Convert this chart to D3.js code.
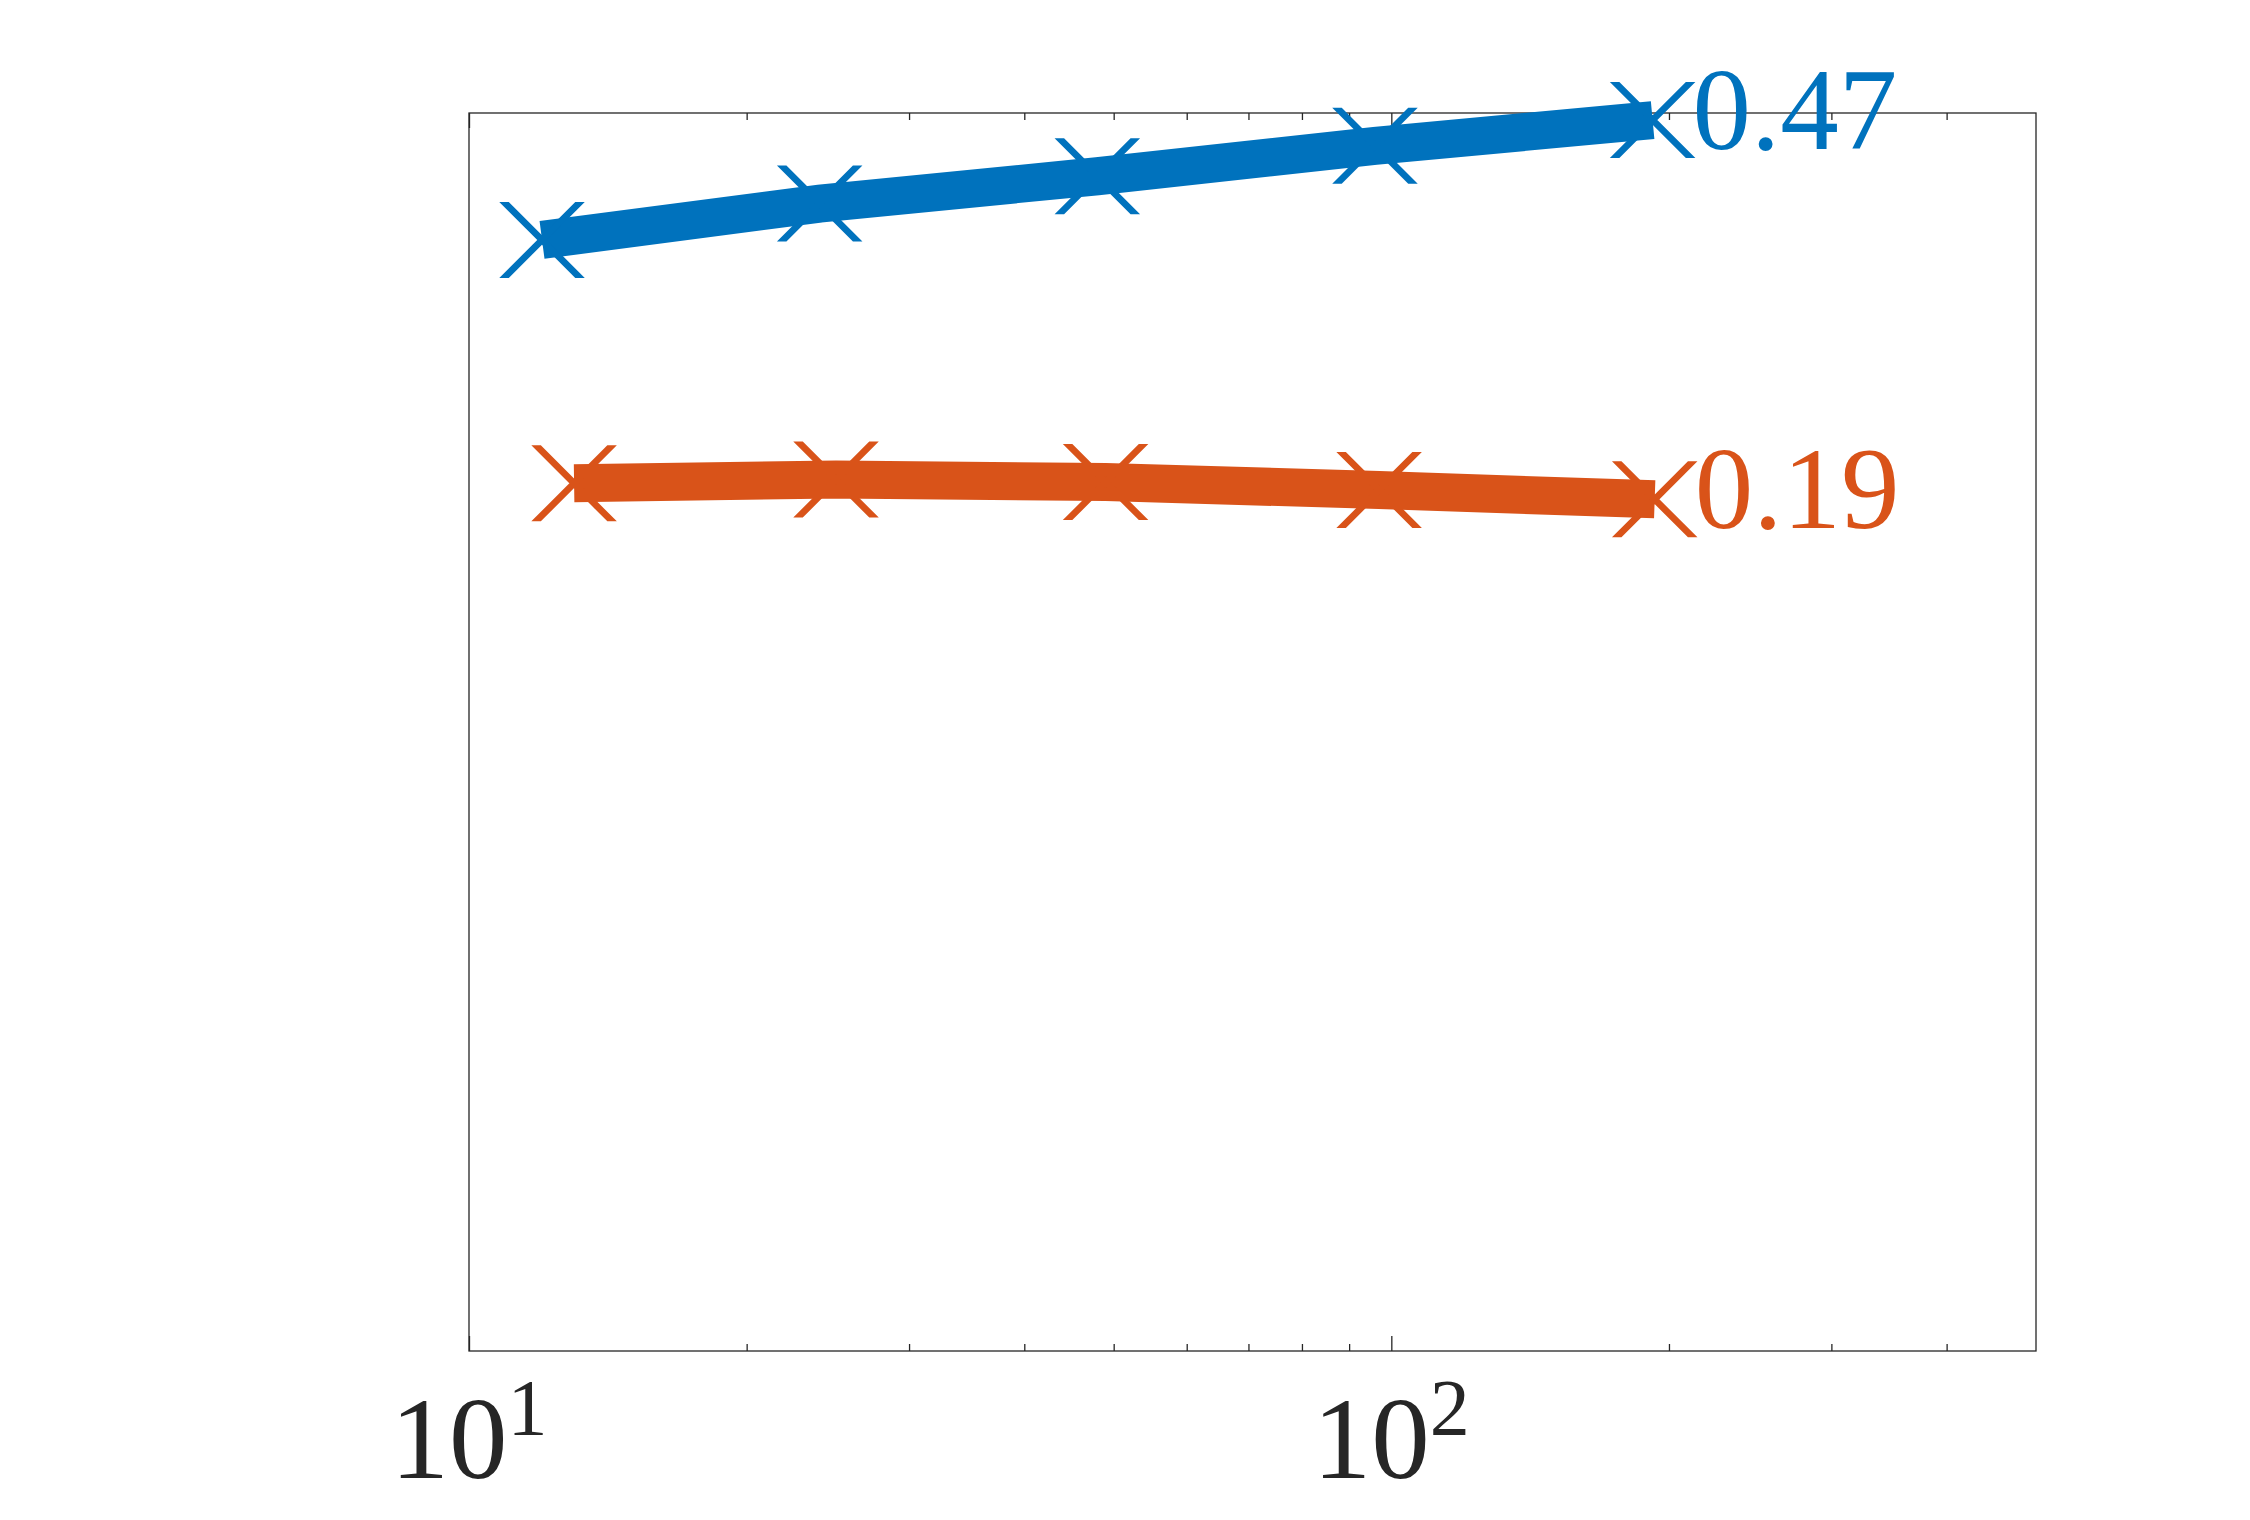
<!DOCTYPE html>
<html>
<head>
<meta charset="utf-8">
<script src="https://cdn.jsdelivr.net/npm/d3@7"></script>
<style>
  html, body { margin: 0; padding: 0; background: #fff; }
  svg { display: block; }
</style>
</head>
<body>
<div id="chart"></div>
<script>
// x values (log axis) for each series
const blueX = [12, 24, 48, 96, 192];
const orangeX = [13, 25, 49, 97, 193];
// y values (log axis, no tick labels shown)
const blueY = [0.353, 0.385, 0.411, 0.442, 0.47];
const orangeY = [0.1974, 0.1992, 0.198, 0.1943, 0.19];
// end labels
const endLabels = ["0.47", "0.19"];
// x ticks
const majorTicks = [10, 100];
const minorTicks = [20, 30, 40, 50, 60, 70, 80, 90, 200, 300, 400];
const tickLabels = [["10", "1"], ["10", "2"]];

const width = 2250, height = 1520;
const margin = { left: 469, right: 2036, top: 113, bottom: 1351 };

const svg = d3.select("#chart").append("svg")
  .attr("width", width)
  .attr("height", height);

const x = d3.scaleLog().domain([10, 500]).range([margin.left, margin.right]);
const y = d3.scaleLog().domain([0.02486, 0.478]).range([margin.bottom, margin.top]);

const axisColor = "#262626";

// ticks, bottom and top, pointing inward
function drawTicks(values, size, pos) {
  const ax = pos === "bottom"
    ? d3.axisBottom(x).tickValues(values).tickSize(-size).tickFormat("")
    : d3.axisTop(x).tickValues(values).tickSize(-size).tickFormat("");
  const g = svg.append("g")
    .attr("transform", `translate(0,${pos === "bottom" ? margin.bottom : margin.top})`)
    .call(ax);
  g.select(".domain").remove();
  g.selectAll("line").attr("stroke", axisColor).attr("stroke-width", 1.3);
}
drawTicks(minorTicks, 7, "bottom");
drawTicks(minorTicks, 7, "top");
drawTicks(majorTicks, 15, "bottom");
drawTicks(majorTicks, 15, "top");

// box
svg.append("rect")
  .attr("x", margin.left)
  .attr("y", margin.top)
  .attr("width", margin.right - margin.left)
  .attr("height", margin.bottom - margin.top)
  .attr("fill", "none")
  .attr("stroke", axisColor)
  .attr("stroke-width", 1.3);

// tick labels 10^n
const lab = svg.selectAll(".ticklab")
  .data(majorTicks)
  .enter()
  .append("text")
  .attr("class", "ticklab")
  .attr("x", d => x(d))
  .attr("y", 1478)
  .attr("text-anchor", "middle")
  .style("font-family", "'Liberation Serif', 'Times New Roman', serif")
  .style("fill", axisColor);
lab.append("tspan")
  .style("font-size", "117px")
  .text((d, i) => tickLabels[i][0]);
lab.append("tspan")
  .style("font-size", "80px")
  .attr("dy", -43)
  .text((d, i) => tickLabels[i][1]);

// series
const series = [
  { xs: blueX, ys: blueY, color: "#0072BD", label: endLabels[0] },
  { xs: orangeX, ys: orangeY, color: "#D95319", label: endLabels[1] }
];

const line = d3.line()
  .x(d => x(d[0]))
  .y(d => y(d[1]));

// x marker drawn as two slanted bars with flat ends
const ms = 38, t = 9.5;
const xMarker = `M${-ms - t/2},${-ms} L${-ms + t/2},${-ms} L${ms + t/2},${ms} L${ms - t/2},${ms} Z ` +
                `M${ms - t/2},${-ms} L${ms + t/2},${-ms} L${-ms + t/2},${ms} L${-ms - t/2},${ms} Z`;

series.forEach(s => {
  const pts = s.xs.map((v, i) => [v, s.ys[i]]);
  svg.append("path")
    .datum(pts)
    .attr("d", line)
    .attr("fill", "none")
    .attr("stroke", s.color)
    .attr("stroke-width", 38)
    .attr("stroke-linecap", "butt")
    .attr("stroke-linejoin", "miter");

  svg.selectAll(null)
    .data(pts)
    .enter()
    .append("path")
    .attr("d", xMarker)
    .attr("transform", d => `translate(${x(d[0])},${y(d[1])})`)
    .attr("fill", s.color);

  const last = pts[pts.length - 1];
  svg.append("text")
    .attr("x", x(last[0]) + 40)
    .attr("y", y(last[1]) + 29)
    .style("font-family", "'Liberation Serif', 'Times New Roman', serif")
    .style("font-size", "117px")
    .style("fill", s.color)
    .text(s.label);
});
</script>
</body>
</html>
